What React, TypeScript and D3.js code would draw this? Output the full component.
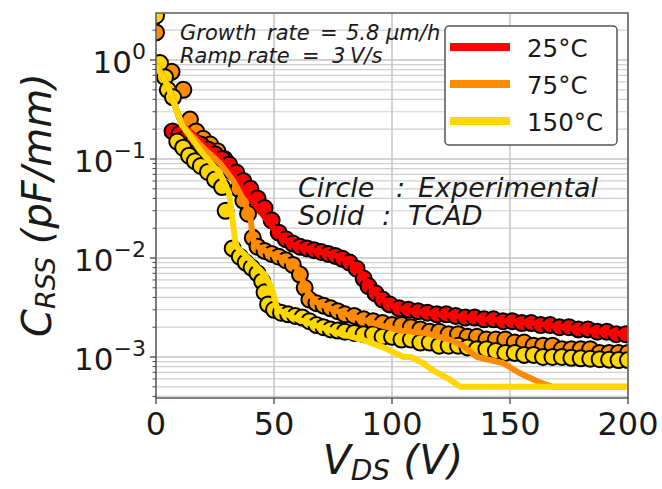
import React from 'react';
import * as d3 from 'd3';

// ---------- data ----------
const xTicks = [0, 50, 100, 150, 200];
const yTicks = [1e-3, 1e-2, 1e-1, 1e0];
const yTickExp = ['\u22123', '\u22122', '\u22121', '0'];
const seriesNames = ['25°C', '75°C', '150°C'];
const seriesColors = ['#ff0000', '#ff8c00', '#ffd700'];

// Experimental (circles): [V_DS, C_RSS]
const exp25: [number, number][] = [
  [7, 0.19], [10, 0.18], [13, 0.165], [16, 0.15], [19, 0.14], [22, 0.125], [25, 0.112], [28, 0.1],
  [31, 0.088], [34, 0.073], [37, 0.06], [40, 0.05], [43, 0.04], [46, 0.032], [49, 0.024], [52, 0.018],
  [55, 0.0155], [58, 0.014], [61, 0.013], [64, 0.0125], [67, 0.012], [70, 0.0115], [73, 0.011],
  [76, 0.0105], [79, 0.0098], [82, 0.009], [85, 0.0078], [88, 0.0062], [90, 0.0052], [93, 0.0044],
  [96, 0.0038], [99, 0.0034], [103, 0.0031], [107, 0.003], [111, 0.0029], [115, 0.0028], [119, 0.0027],
  [123, 0.0027], [127, 0.0026], [131, 0.0025], [135, 0.0025], [139, 0.0024], [143, 0.0024], [147, 0.0023],
  [151, 0.0023], [155, 0.0022], [159, 0.0022], [163, 0.0021], [167, 0.0021], [171, 0.002], [175, 0.002],
  [179, 0.0019], [183, 0.0019], [187, 0.0018], [191, 0.0018], [195, 0.0017], [199, 0.0017],
];
const exp75: [number, number][] = [
  [0, 1.9], [6.6, 0.76], [11.6, 0.5], [14.4, 0.25], [17, 0.19], [20, 0.16], [23, 0.14], [26, 0.12],
  [29, 0.1], [32, 0.075], [35, 0.05], [37, 0.038], [39, 0.028], [41, 0.016], [43, 0.013], [46, 0.0118],
  [49, 0.011], [52, 0.0103], [55, 0.0095], [58, 0.0085], [61, 0.0068], [63, 0.005], [65, 0.0038],
  [68, 0.0035], [71, 0.0033], [74, 0.0031], [77, 0.0029], [80, 0.0027], [84, 0.0026], [88, 0.0024],
  [92, 0.0023], [96, 0.0022], [100, 0.0021], [104, 0.0021], [108, 0.002], [112, 0.0019], [116, 0.0018],
  [120, 0.0018], [124, 0.0017], [128, 0.0017], [132, 0.0016], [136, 0.0016], [140, 0.0015], [144, 0.0015],
  [148, 0.0015], [152, 0.0014], [156, 0.0014], [160, 0.0013], [164, 0.0013], [168, 0.0013], [172, 0.0012],
  [176, 0.0012], [180, 0.0012], [184, 0.0012], [188, 0.0011], [192, 0.0011], [196, 0.0011], [200, 0.0011],
];
const exp150: [number, number][] = [
  [0, 2.8], [1.7, 0.93], [3.8, 0.67], [5, 0.5], [7.2, 0.42], [9, 0.15], [11.5, 0.13], [14, 0.108],
  [16.5, 0.095], [19, 0.085], [22, 0.074], [25, 0.062], [28, 0.052], [29.5, 0.03], [32.5, 0.0125],
  [35.5, 0.0103], [38, 0.009], [40.5, 0.008], [43, 0.007], [45, 0.0058], [46, 0.0045], [47.5, 0.0034],
  [50, 0.003], [53, 0.0028], [56, 0.0027], [59, 0.0026], [62, 0.0025], [65, 0.0023], [68, 0.0021],
  [71, 0.002], [74, 0.0019], [77, 0.00185], [80, 0.0018], [84, 0.00175], [88, 0.0017], [92, 0.0017],
  [96, 0.0016], [100, 0.0016], [104, 0.0015], [108, 0.0015], [112, 0.0014], [116, 0.0014], [120, 0.0013],
  [124, 0.0013], [128, 0.0013], [132, 0.00125], [136, 0.0012], [140, 0.0012], [144, 0.00115], [148, 0.0011],
  [152, 0.0011], [156, 0.00105], [160, 0.00105], [164, 0.001], [168, 0.001], [172, 0.001], [176, 0.00098],
  [180, 0.00097], [184, 0.00096], [188, 0.00095], [192, 0.00094], [196, 0.00093], [200, 0.00093],
];

// TCAD (solid lines): [V_DS, C_RSS]
const tcad25: [number, number][] = [
  [0, 0.9], [5, 0.55], [11, 0.22], [18, 0.16], [25, 0.11], [30, 0.085], [37, 0.05], [42, 0.035],
  [47, 0.024], [52, 0.017], [58, 0.0135], [65, 0.0122], [72, 0.0112], [78, 0.0102], [83, 0.0088],
  [87, 0.007], [90, 0.0054], [94, 0.0042], [98, 0.0035], [105, 0.003], [120, 0.0027], [140, 0.0024],
  [160, 0.0022], [180, 0.0019], [200, 0.0017],
];
const tcad75: [number, number][] = [
  [0, 0.9], [5, 0.55], [11, 0.22], [20, 0.13], [27, 0.091], [32.6, 0.061], [37, 0.039], [40, 0.026],
  [41, 0.016], [42, 0.0135], [48, 0.0112], [55, 0.0095], [60, 0.0078], [62, 0.006], [64, 0.0046],
  [68, 0.0036], [75, 0.003], [85, 0.0025], [95, 0.0021], [103, 0.00186], [115, 0.00173], [120, 0.0016],
  [125, 0.00148], [130, 0.0013], [136, 0.001], [147, 0.00087], [154, 0.00069], [163, 0.00055],
  [168, 0.0005], [200, 0.0005],
];
const tcad150: [number, number][] = [
  [0, 0.9], [5, 0.55], [11, 0.22], [18.6, 0.123], [27, 0.072], [31, 0.045], [32.6, 0.0226],
  [33.5, 0.0152], [34.3, 0.0129], [40, 0.0095], [46, 0.0068], [49, 0.005], [51.5, 0.003], [60, 0.0024],
  [70, 0.002], [77, 0.00175], [88, 0.00148], [96, 0.00126], [105, 0.001], [108, 0.001], [113, 0.00087],
  [117, 0.00074], [124.6, 0.00059], [129, 0.0005], [200, 0.0005],
];

const expSeries = [exp25, exp75, exp150];
const tcadSeries = [tcad25, tcad75, tcad150];
const scatterOrder = [1, 0, 2];

// ---------- layout ----------
const W = 662;
const H = 489;
const L = 156, R = 628, T = 13, B = 398;
const FONT = "'DejaVu Sans', sans-serif";

export default function App() {
  const x = d3.scaleLinear().domain([0, 200]).range([L, R]);
  const y = d3.scaleLog().domain([Math.pow(10, -3.4141), Math.pow(10, 0.4747)]).range([B, T]);
  const line = d3.line<[number, number]>().x(d => x(d[0])).y(d => y(d[1]));

  const [yMin, yMax] = y.domain();
  const minor: number[] = [];
  for (let k = -4; k <= 0; k++) {
    for (let m = 2; m <= 9; m++) {
      const v = m * Math.pow(10, k);
      if (v >= yMin && v <= yMax) minor.push(v);
    }
  }

  const word = (t: string, px: number, py: number, size: number, key: string) => (
    <text key={key} x={px} y={py} fontSize={size} fontStyle="italic" fill="#1a1a1a">{t}</text>
  );

  return (
    <svg width={W} height={H} style={{ position: 'absolute', left: 0, top: 0, background: '#fff' }}
      fontFamily={FONT}>
      <defs>
        <clipPath id="plotclip"><rect x={L} y={T} width={R - L} height={B - T} /></clipPath>
      </defs>
      <rect x={0} y={0} width={W} height={H} fill="#fff" />

      {/* grid */}
      {minor.map((v, i) => (
        <line key={'mg' + i} x1={L} x2={R} y1={y(v)} y2={y(v)} stroke="#d0d0d0" strokeWidth={1.2} />
      ))}
      {yTicks.map((v, i) => (
        <line key={'yg' + i} x1={L} x2={R} y1={y(v)} y2={y(v)} stroke="#c4c4c4" strokeWidth={1.5} />
      ))}
      {xTicks.map((v, i) => (
        <line key={'xg' + i} x1={x(v)} x2={x(v)} y1={T} y2={B} stroke="#c4c4c4" strokeWidth={1.5} />
      ))}

      {/* data */}
      <g clipPath="url(#plotclip)">
        {scatterOrder.map(si => (
          <g key={'s' + si}>
            {expSeries[si].map((d, i) => (
              <circle key={i} cx={x(d[0])} cy={y(d[1])} r={8} fill={seriesColors[si]}
                stroke="#000" strokeWidth={2} />
            ))}
          </g>
        ))}
        {tcadSeries.map((s, si) => (
          <path key={'l' + si} d={line(s) || ''} fill="none" stroke={seriesColors[si]}
            strokeWidth={6} strokeLinejoin="round" />
        ))}
      </g>

      {/* spines */}
      <rect x={L} y={T} width={R - L} height={B - T} fill="none" stroke="#666" strokeWidth={1.6} />

      {/* y ticks */}
      {minor.map((v, i) => (
        <line key={'mt' + i} x1={L - 3.5} x2={L} y1={y(v)} y2={y(v)} stroke="#444" strokeWidth={1} />
      ))}
      {yTicks.map((v, i) => (
        <g key={'yt' + i}>
          <line x1={L - 6} x2={L} y1={y(v)} y2={y(v)} stroke="#444" strokeWidth={1.3} />
          <text x={146} y={y(v) + 13} textAnchor="end" fill="#1a1a1a">
            <tspan fontSize={31}>10</tspan>
            <tspan fontSize={22} dy={-14}>{yTickExp[i]}</tspan>
          </text>
        </g>
      ))}

      {/* x ticks */}
      {xTicks.map((v, i) => (
        <g key={'xt' + i}>
          <line x1={x(v)} x2={x(v)} y1={B} y2={B + 6} stroke="#444" strokeWidth={1.3} />
          <text x={x(v)} y={435} textAnchor="middle" fontSize={32} fill="#1a1a1a">{v}</text>
        </g>
      ))}

      {/* axis titles */}
      <text x={393} y={474} textAnchor="middle" fontSize={41} fontStyle="italic" fill="#1a1a1a">
        <tspan>V</tspan>
        <tspan fontSize={28} dy={6}>DS</tspan>
        <tspan dy={-6}>{'\u00a0(V)'}</tspan>
      </text>
      <text transform="translate(51,205) rotate(-90)" textAnchor="middle" fontSize={40} fontStyle="italic"
        fill="#1a1a1a">
        <tspan>C</tspan>
        <tspan fontSize={27} dy={4}>RSS</tspan>
        <tspan dy={-4}>{'\u00a0(pF/mm)'}</tspan>
      </text>

      {/* annotations */}
      {word('Growth', 180, 40, 21, 'a1')}
      {word('rate', 267, 40, 21, 'a2')}
      {word('=', 320, 40, 21, 'a3')}
      {word('5.8', 346, 40, 21, 'a4')}
      {word('\u03bcm/h', 386, 40, 21, 'a5')}
      {word('Ramp', 180, 63, 21, 'b1')}
      {word('rate', 247, 63, 21, 'b2')}
      {word('=', 302, 63, 21, 'b3')}
      {word('3', 332, 63, 21, 'b4')}
      {word('V/s', 350, 63, 21, 'b5')}

      {word('Circle', 298, 197, 27, 'c1')}
      {word(':', 396, 197, 27, 'c2')}
      {word('Experimental', 418, 197, 27, 'c3')}
      {word('Solid', 298, 225, 27, 'd1')}
      {word(':', 382, 225, 27, 'd2')}
      {word('TCAD', 408, 225, 27, 'd3')}

      {/* legend */}
      <rect x={445} y={26} width={172} height={119} rx={4} fill="#fff" stroke="#555" strokeWidth={1.5} />
      {seriesNames.map((n, i) => {
        const ly = 47 + i * 37;
        return (
          <g key={'lg' + i}>
            <line x1={450} x2={510} y1={ly} y2={ly} stroke={seriesColors[i]} strokeWidth={8} />
            <text x={527} y={ly + 10} fontSize={24.5} fill="#1a1a1a">{n}</text>
          </g>
        );
      })}
    </svg>
  );
}
